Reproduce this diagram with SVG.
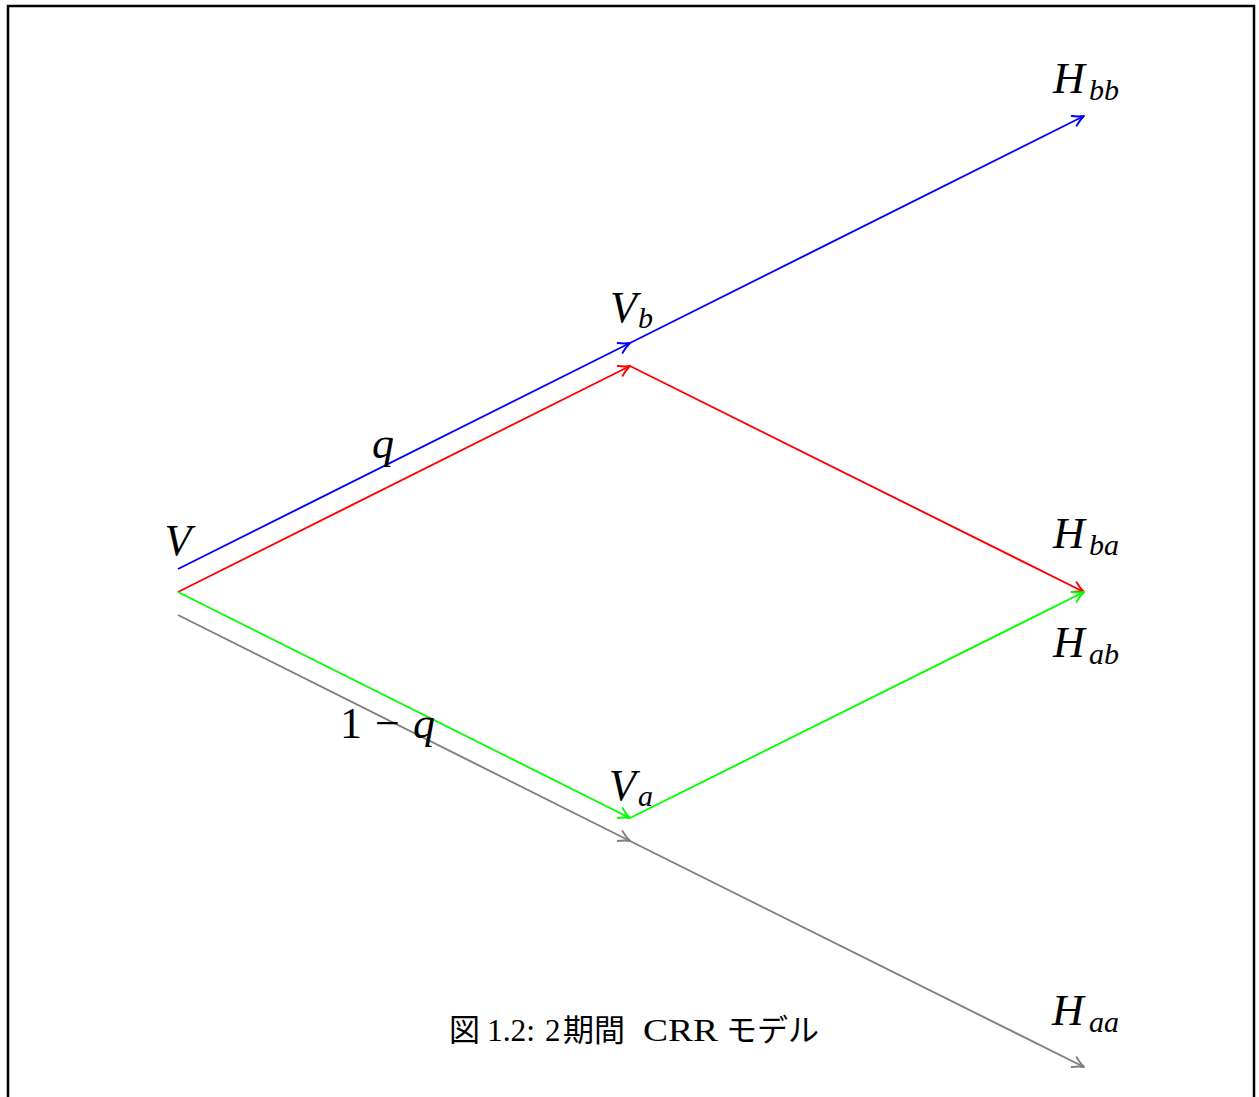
<svg xmlns="http://www.w3.org/2000/svg" width="1259" height="1097" viewBox="0 0 1259 1097">
<style>
.m{font-family:"Liberation Serif","Times New Roman",serif;font-style:italic;font-size:44px;fill:#000}
.s{font-size:30px}
.r{font-family:"Liberation Serif","Times New Roman",serif;font-size:44px;fill:#000}
.cap{font-family:"Liberation Serif","Noto Sans CJK JP",serif;font-size:31px;fill:#000}
.cj{font-family:"Noto Sans CJK JP",sans-serif;font-size:31px;fill:#000}
.e{fill:none;stroke-width:1.9}
.h{fill:none;stroke-width:1.9;stroke-linejoin:round;stroke-linecap:round}
</style>
<defs>
<marker id="ab" markerUnits="userSpaceOnUse" orient="auto" refX="0" refY="0" markerWidth="30" markerHeight="30" viewBox="-15 -15 30 30" overflow="visible"><path class="h" d="M-11,-5.5 Q-5,-1.5 0,0 Q-5,1.5 -11,5.5" stroke="#0000ff"/></marker>
<marker id="ar" markerUnits="userSpaceOnUse" orient="auto" refX="0" refY="0" markerWidth="30" markerHeight="30" viewBox="-15 -15 30 30" overflow="visible"><path class="h" d="M-11,-5.5 Q-5,-1.5 0,0 Q-5,1.5 -11,5.5" stroke="#ff0000"/></marker>
<marker id="ag" markerUnits="userSpaceOnUse" orient="auto" refX="0" refY="0" markerWidth="30" markerHeight="30" viewBox="-15 -15 30 30" overflow="visible"><path class="h" d="M-11,-5.5 Q-5,-1.5 0,0 Q-5,1.5 -11,5.5" stroke="#00ff00"/></marker>
<marker id="ay" markerUnits="userSpaceOnUse" orient="auto" refX="0" refY="0" markerWidth="30" markerHeight="30" viewBox="-15 -15 30 30" overflow="visible"><path class="h" d="M-11,-5.5 Q-5,-1.5 0,0 Q-5,1.5 -11,5.5" stroke="#808080"/></marker>
</defs>
<rect width="1259" height="1097" fill="#fff"/>
<path d="M8,1097 V6 H1254 V1097" fill="none" stroke="#000" stroke-width="2.5"/>
<g id="connectors">
<line class="e" x1="178" y1="569" x2="630" y2="343" stroke="#0000ff" marker-end="url(#ab)"/>
<line class="e" x1="630" y1="343" x2="1084" y2="116" stroke="#0000ff" marker-end="url(#ab)"/>
<line class="e" x1="178" y1="592" x2="630" y2="366" stroke="#ff0000" marker-end="url(#ar)"/>
<line class="e" x1="630" y1="366" x2="1084" y2="592" stroke="#ff0000" marker-end="url(#ar)"/>
<line class="e" x1="178" y1="592" x2="630" y2="818" stroke="#00ff00" marker-end="url(#ag)"/>
<line class="e" x1="630" y1="818" x2="1084" y2="592" stroke="#00ff00" marker-end="url(#ag)"/>
<line class="e" x1="178" y1="615" x2="630" y2="841" stroke="#808080" marker-end="url(#ay)"/>
<line class="e" x1="630" y1="841" x2="1084" y2="1067" stroke="#808080" marker-end="url(#ay)"/>
</g>
<g id="node-V"><text class="m" x="178" y="555" text-anchor="middle">V</text></g>
<g id="node-Vb"><text class="m" x="610" y="322">V</text><text class="m s" x="638" y="328">b</text></g>
<g id="node-Va"><text class="m" x="609" y="800">V</text><text class="m s" x="638" y="806">a</text></g>
<g id="node-Hbb"><text class="m" x="1053" y="93">H</text><text class="m s" x="1089" y="100">bb</text></g>
<g id="node-Hba"><text class="m" x="1053" y="548">H</text><text class="m s" x="1089" y="555">ba</text></g>
<g id="node-Hab"><text class="m" x="1053" y="657">H</text><text class="m s" x="1089" y="664">ab</text></g>
<g id="node-Haa"><text class="m" x="1052" y="1025">H</text><text class="m s" x="1089" y="1032">aa</text></g>
<g id="label-q"><text class="m" x="383" y="458" text-anchor="middle">q</text></g>
<g id="label-1q"><text class="r" x="340" y="738">1</text><text class="r" x="387.5" y="738" text-anchor="middle">−</text><text class="m" x="413" y="738">q</text></g>
<g id="caption">
<text class="cj" x="449" y="1041">図</text>
<text class="cap" x="487" y="1041" textLength="48" lengthAdjust="spacingAndGlyphs">1.2:</text>
<text class="cap" x="545" y="1041">2</text>
<text class="cj" x="563" y="1041">期間</text>
<text class="cap" x="643" y="1041" textLength="75" lengthAdjust="spacingAndGlyphs">CRR</text>
<text class="cj" x="726" y="1041">モデル</text>
</g>
</svg>
